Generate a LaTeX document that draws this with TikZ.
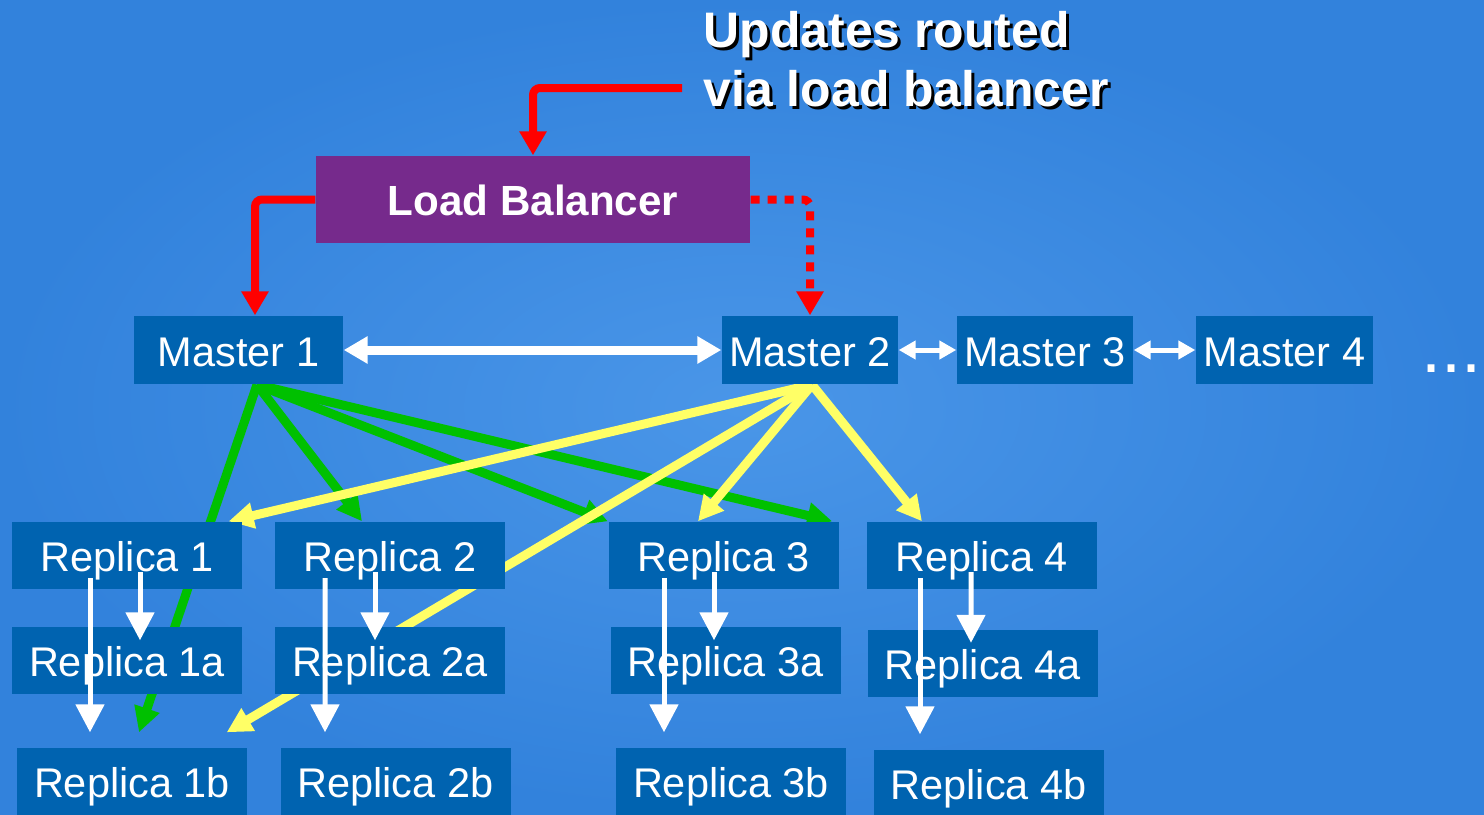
\documentclass[tikz,border=0pt]{standalone}
\usepackage{fontspec}
\setmainfont{Liberation Sans}
\usepackage{tikz}
\usetikzlibrary{arrows.meta}

\definecolor{bgin}{RGB}{74,150,232}
\definecolor{bgout}{RGB}{50,130,220}
\definecolor{boxblue}{RGB}{0,99,176}
\definecolor{lbpurple}{RGB}{118,42,140}
\definecolor{arrgreen}{RGB}{0,192,0}
\definecolor{arryellow}{RGB}{255,255,102}

\pgfdeclarelayer{bg}
\pgfdeclarelayer{links}
\pgfsetlayers{bg,links,main}

\begin{document}
\begin{tikzpicture}[
  font=\fontsize{11.8}{14}\selectfont,
  sbox/.style={fill=boxblue, text=white, minimum height=0.67cm, inner sep=1pt,
               text height=0.32cm, text depth=0cm},
  mbox/.style={sbox, minimum width=1.76cm, minimum height=0.68cm},
  rbox/.style={sbox, minimum width=2.30cm},
  ttl/.style={font=\fontsize{14.2}{16.8}\selectfont\bfseries, align=left,
              anchor=north west, inner sep=0pt},
  redar/.style={draw=red, line width=0.08cm, rounded corners=2pt,
                -{Triangle[length=0.24cm, width=0.26cm]}},
  colar/.style={line width=0.09cm, -{Triangle[length=0.25cm, width=0.25cm]}},
  mlink/.style={draw=white, line width=0.09cm,
                {Triangle[length=0.24cm, width=0.26cm]}-{Triangle[length=0.24cm, width=0.26cm]}},
  slink/.style={draw=white, line width=0.05cm,
                {Triangle[length=0.17cm, width=0.18cm]}-{Triangle[length=0.17cm, width=0.18cm]}},
  wdown/.style={draw=white, line width=0.05cm, -{Triangle[length=0.28cm, width=0.28cm]}},
]
\useasboundingbox (0,0) rectangle (14.84,-8.14);
\begin{pgfonlayer}{bg}
  \shade[inner color=bgin, outer color=bgout] (0,0) rectangle (14.84,-8.14);
\end{pgfonlayer}

% title with its drop shadow
\node[ttl, text=black] (tshadow) at (7.06,-0.14) {Updates routed\\via load balancer};
\node[ttl, text=white] (title) at (7.03,-0.11) {Updates routed\\via load balancer};
\coordinate (rsrc) at (6.82,-0.88);

\node[fill=lbpurple, text=white, font=\fontsize{12}{14}\selectfont\bfseries,
      minimum width=4.34cm, minimum height=0.87cm, text height=0.31cm, text depth=0cm]
     (lb) at (5.33,-1.995) {Load Balancer};

\node[mbox, minimum width=2.09cm] (m1) at (2.385,-3.50) {Master 1};
\node[mbox] (m2) at (8.10,-3.50)  {Master 2};
\node[mbox] (m3) at (10.45,-3.50) {Master 3};
\node[mbox, minimum width=1.77cm] (m4) at (12.845,-3.50) {Master 4};
\node[anchor=base west, inner sep=0pt, text=white, font=\fontsize{20.5}{24}\selectfont]
     (dots) at (14.21,-3.72) {...};

\node[rbox] (r1) at (1.27,-5.555)  {Replica 1};
\node[rbox] (r2) at (3.90,-5.555)  {Replica 2};
\node[rbox] (r3) at (7.235,-5.555) {Replica 3};
\node[rbox] (r4) at (9.815,-5.555) {Replica 4};

\node[rbox] (r1a) at (1.27,-6.605)  {Replica 1a};
\node[rbox] (r2a) at (3.90,-6.605)  {Replica 2a};
\node[rbox] (r3a) at (7.255,-6.605) {Replica 3a};
\node[rbox] (r4a) at (9.825,-6.63)  {Replica 4a};

\node[rbox] (r1b) at (1.32,-7.815)  {Replica 1b};
\node[rbox] (r2b) at (3.955,-7.815) {Replica 2b};
\node[rbox] (r3b) at (7.31,-7.815)  {Replica 3b};
\node[rbox] (r4b) at (9.885,-7.835) {Replica 4b};

% updates in
\draw[redar] (rsrc) -| (lb.north);
\draw[redar] (lb.west) -| ([xshift=0.165cm]m1.north);
\draw[redar, dash pattern=on 0.09cm off 0.08cm] (lb.east) -| (m2.north);

% master links
\draw[mlink] (m1) -- (m2);
\draw[slink] (m2) -- (m3);
\draw[slink] (m3) -- (m4);

\begin{pgfonlayer}{links}
  \draw[colar, arrgreen] ([xshift=0.185cm]m1.south) -- ([shift={(0.07,0.15)}]r1b.north);
  \draw[colar, arrgreen] ([xshift=0.185cm]m1.south) -- ([xshift=-0.28cm]r2.north);
  \draw[colar, arrgreen] ([xshift=0.185cm]m1.south) -- (r3.north west);
  \draw[colar, arrgreen] ([xshift=0.185cm]m1.south) -- ([xshift=-0.07cm]r3.north east);

  \draw[colar, arryellow] ([xshift=0.02cm]m2.south) -- ([xshift=-0.14cm]r1.north east);
  \draw[colar, arryellow] ([xshift=0.02cm]m2.south) -- ([shift={(-0.21,0.15)}]r1b.north east);
  \draw[colar, arryellow] ([xshift=0.02cm]m2.south) -- ([xshift=-0.255cm]r3.north);
  \draw[colar, arryellow] ([xshift=0.02cm]m2.south) -- ([xshift=-0.595cm]r4.north);
\end{pgfonlayer}

% cascades
\foreach \r/\ra/\rb/\s/\sa/\l/\lb in {r1/r1a/r1b/0.13/0.13/-0.37/-0.42,
    r2/r2a/r2b/-0.15/-0.15/-0.65/-0.705, r3/r3a/r3b/-0.095/-0.115/-0.595/-0.67,
    r4/r4a/r4b/-0.105/-0.115/-0.615/-0.685} {
  \draw[wdown] ([shift={(\s,-0.165)}]\r.center) -- ([shift={(\sa,-0.14)}]\ra.north);
  \draw[wdown] ([shift={(\l,-0.225)}]\r.center) -- ([shift={(\lb,0.15)}]\rb.north);
}
\end{tikzpicture}
\end{document}
